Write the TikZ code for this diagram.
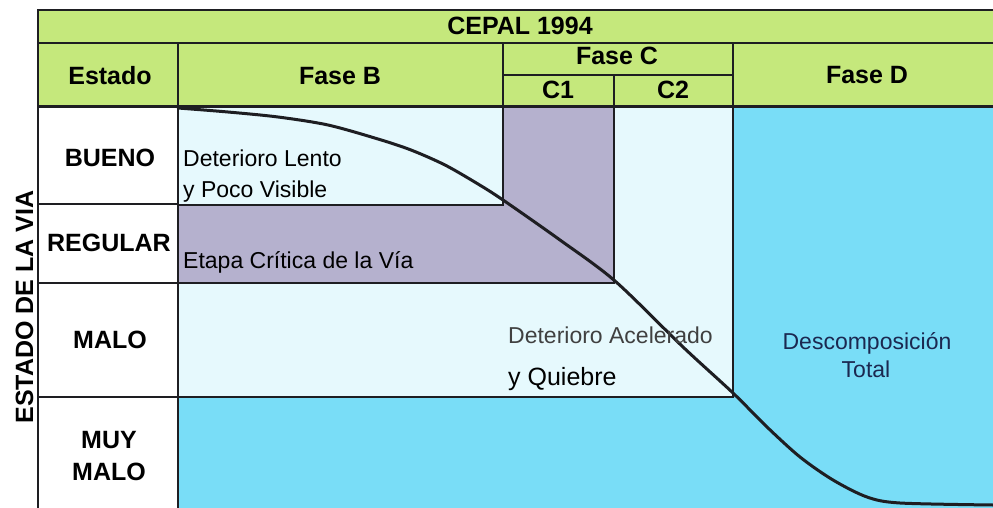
\documentclass[tikz,border=0pt]{standalone}
\usepackage{fontspec}
\setmainfont{Liberation Sans}
\definecolor{cepal-green}{HTML}{C5E87C}
\definecolor{fase-light}{HTML}{E6F9FD}
\definecolor{fase-crit}{HTML}{B5B1CE}
\definecolor{fase-blue}{HTML}{79DDF7}
\definecolor{ink}{HTML}{1E1E22}
\definecolor{navy}{HTML}{1B2850}
\colorlet{acel}{black!75}
\begin{document}
\begin{tikzpicture}[x=1pt,y=-1pt,
  head/.style={font=\fontsize{25}{25}\selectfont\bfseries,anchor=base,inner sep=0pt},
  body/.style={font=\fontsize{23}{23}\selectfont,anchor=base west,inner sep=0pt},
  grid/.style={draw=ink,line width=2.2pt}]
\useasboundingbox (0,0) rectangle (993,508);
% coloured areas
\fill[cepal-green] (38,10) rectangle (993,107);
\fill[fase-light] (178,107) rectangle (733,397);
\fill[fase-crit] (178,205) rectangle (614,283);
\fill[fase-crit] (503,107) rectangle (614,205);
\fill[fase-blue] (733,107) rectangle (993,508);
\fill[fase-blue] (178,397) rectangle (733,508);
% header lines
\draw[grid] (38,508) -- (38,10) -- (993,10);
\draw[grid] (38,43) -- (993,43);
\draw[grid] (503,75) -- (733,75);
\draw[grid] (178,43) -- (178,508);
\draw[grid] (503,43) -- (503,107);
\draw[grid] (614,75) -- (614,107);
\draw[grid] (733,43) -- (733,107);
\draw[grid,line width=3pt] (38,107) -- (993,107);
% rows of the estado column
\foreach \row in {204,283,397} {
  \draw[grid] (38,\row) -- (178,\row);
}
% phase boundaries
\draw[grid] (178,205) -- (503,205) -- (503,107);
\draw[grid] (178,283) -- (614,283) -- (614,107);
\draw[grid] (178,397) -- (733,397) -- (733,107);
% deterioro curve
\draw[ink,line width=3pt,line cap=round] plot[smooth,tension=0.5] coordinates {
  (178,108) (228,112) (278,117) (328,125) (378,139) (411,150) (445,165)
  (478,184) (503,200) (560,240) (615,281) (683,347) (733,393) (767,427)
  (800,457) (833,480) (867,497) (900,503) (993,505)};
% header labels
\node[head] (cepal) at (520,35) {CEPAL 1994};
\node[head] (estado) at (110,85) {Estado};
\node[head] (faseB) at (340,85) {Fase B};
\node[head] (faseC) at (617,65) {Fase C};
\node[head] (cOne) at (558,99) {C1};
\node[head] (cTwo) at (673,99) {C2};
\node[head] (faseD) at (867,84) {Fase D};
% estado labels
\node[head] (bueno) at (110,166) {BUENO};
\node[head] (regular) at (109,251) {REGULAR};
\node[head] (malo) at (110,348) {MALO};
\node[head] (muy) at (109,448) {MUY};
\node[head] (muymalo) at (109,480) {MALO};
\node[head,rotate=90] (eje) at (33,307) {ESTADO DE LA VIA};
% phase texts
\node[body] (lento) at (183,166) {Deterioro Lento};
\node[body] (visible) at (183,197) {y Poco Visible};
\node[body] (critica) at (183,268) {Etapa Crítica de la Vía};
\node[body,text=acel] (acelerado) at (508,343) {Deterioro Acelerado};
\node[body,font=\fontsize{25}{25}\selectfont] (quiebre) at (508,385) {y Quiebre};
\node[body,anchor=base,text=navy] (descomp) at (867,349) {Descomposición};
\node[body,anchor=base,text=navy] (total) at (866,377) {Total};
\end{tikzpicture}
\end{document}
